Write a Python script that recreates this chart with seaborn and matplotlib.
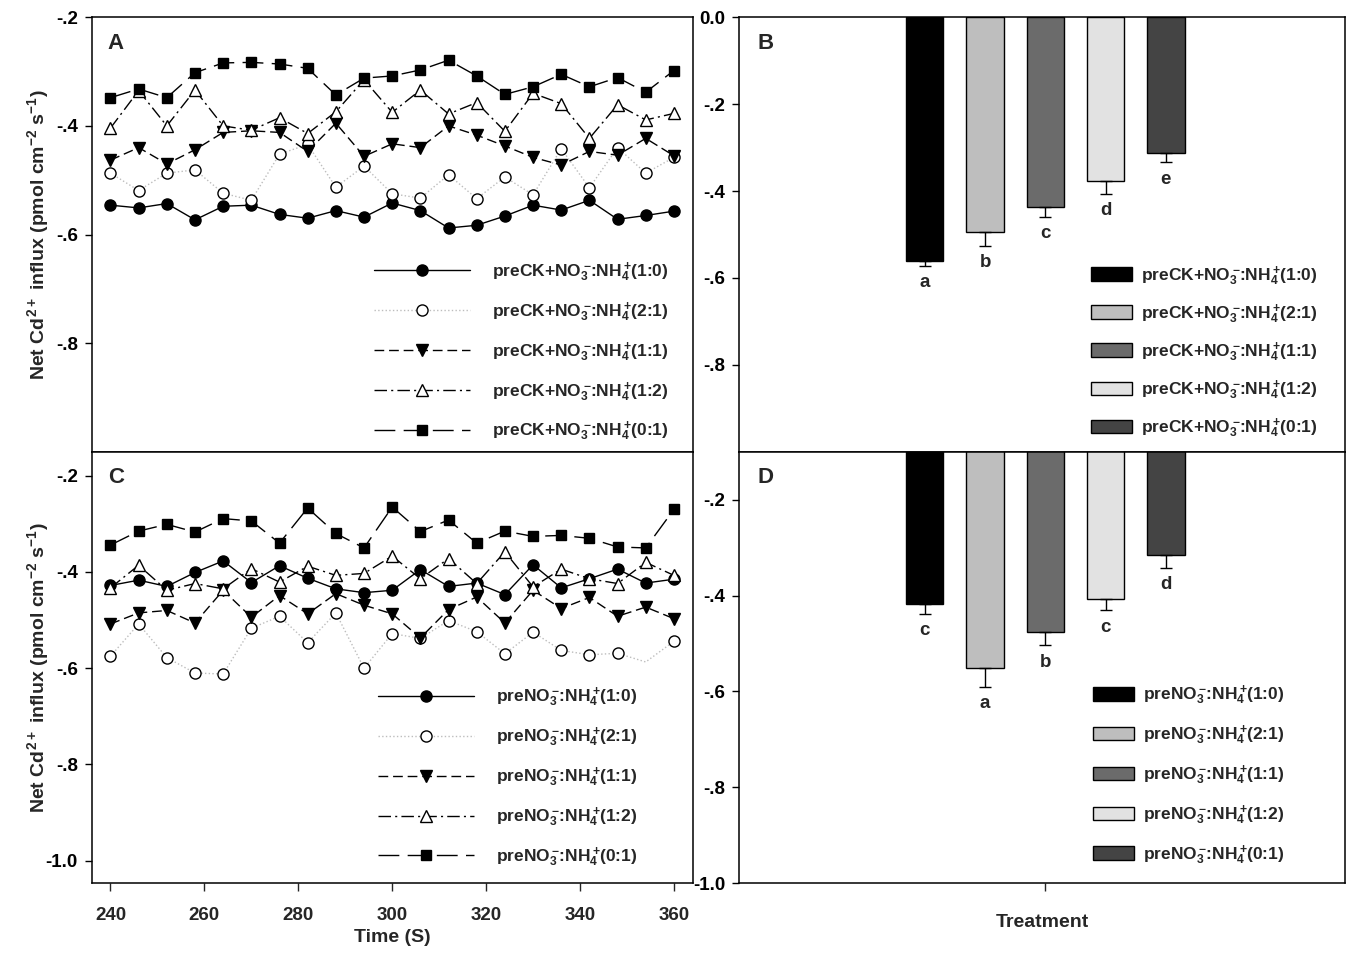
import numpy as np
import pandas as pd
import matplotlib
matplotlib.use('Agg')
import matplotlib.pyplot as plt
import seaborn as sns
from matplotlib import font_manager

# ---------------- data ----------------
time = list(range(240, 361, 6))

ratios = ['1:0', '2:1', '1:1', '1:2', '0:1']

# Panel A (preCK + NO3-:NH4+)
A_10 = [-0.546, -0.551, -0.543, -0.573, -0.548, -0.546, -0.563, -0.570, -0.556, -0.568, -0.542,
        -0.556, -0.588, -0.583, -0.566, -0.546, -0.555, -0.537, -0.572, -0.565, -0.557]
A_21 = [-0.487, -0.519, -0.487, -0.481, -0.524, -0.537, -0.452, -0.434, -0.513, -0.474, -0.525,
        -0.533, -0.490, -0.534, -0.494, -0.527, -0.442, -0.514, -0.440, -0.487, -0.458]
A_11 = [-0.463, -0.440, -0.470, -0.444, -0.412, -0.409, -0.412, -0.447, -0.395, -0.456, -0.433,
        -0.440, -0.400, -0.417, -0.437, -0.458, -0.472, -0.447, -0.454, -0.423, -0.455]
A_12 = [-0.404, -0.335, -0.400, -0.334, -0.400, -0.408, -0.385, -0.414, -0.374, -0.315, -0.375,
        -0.334, -0.378, -0.357, -0.410, -0.340, -0.359, -0.423, -0.361, -0.389, -0.377]
A_01 = [-0.348, -0.332, -0.348, -0.302, -0.284, -0.283, -0.286, -0.294, -0.343, -0.312, -0.308,
        -0.297, -0.279, -0.308, -0.342, -0.328, -0.305, -0.328, -0.311, -0.338, -0.298]

# Panel C (pre NO3-:NH4+)
C_10 = [-0.428, -0.417, -0.430, -0.401, -0.377, -0.422, -0.387, -0.413, -0.435, -0.443, -0.438,
        -0.395, -0.430, -0.423, -0.447, -0.385, -0.433, -0.414, -0.394, -0.423, -0.415]
C_21 = [-0.575, -0.508, -0.578, -0.610, -0.612, -0.517, -0.492, -0.547, -0.485, -0.600, -0.528,
        -0.538, -0.501, -0.524, -0.570, -0.525, -0.563, -0.572, -0.569, -0.587, -0.544]
C_11 = [-0.508, -0.485, -0.480, -0.506, -0.438, -0.494, -0.449, -0.487, -0.445, -0.469, -0.487,
        -0.537, -0.478, -0.452, -0.506, -0.438, -0.476, -0.453, -0.492, -0.473, -0.497]
C_12 = [-0.433, -0.386, -0.438, -0.424, -0.435, -0.393, -0.421, -0.388, -0.407, -0.403, -0.367,
        -0.414, -0.372, -0.424, -0.358, -0.431, -0.394, -0.414, -0.424, -0.380, -0.407]
C_01 = [-0.344, -0.315, -0.301, -0.317, -0.289, -0.294, -0.340, -0.267, -0.320, -0.350, -0.265,
        -0.316, -0.292, -0.340, -0.315, -0.326, -0.324, -0.330, -0.348, -0.350, -0.270]

# Panels B and D (mean flux, SE, letters)
B_mean = [-0.560, -0.494, -0.436, -0.376, -0.312]
B_err = [0.012, 0.033, 0.024, 0.031, 0.022]
B_letters = ['a', 'b', 'c', 'd', 'e']
D_mean = [-0.418, -0.551, -0.477, -0.408, -0.316]
D_err = [0.020, 0.040, 0.027, 0.023, 0.026]
D_letters = ['c', 'a', 'b', 'c', 'd']

labels_ck = [r'preCK+NO$_3^-\!$:NH$_4^+\!$(%s)' % r for r in ratios]
labels_pre = [r'preNO$_3^-\!$:NH$_4^+\!$(%s)' % r for r in ratios]

ytick_A = [-0.8, -0.6, -0.4, -0.2]
ytick_A_lab = ['-.8', '-.6', '-.4', '-.2']
ytick_C = [-1.0, -0.8, -0.6, -0.4, -0.2]
ytick_C_lab = ['-1.0', '-.8', '-.6', '-.4', '-.2']
ytick_B = [-0.8, -0.6, -0.4, -0.2, 0.0]
ytick_B_lab = ['-.8', '-.6', '-.4', '-.2', '0.0']
ytick_D = [-1.0, -0.8, -0.6, -0.4, -0.2]
ytick_D_lab = ['-1.0', '-.8', '-.6', '-.4', '-.2']
xtick_C = [240, 260, 280, 300, 320, 340, 360]

bar_colors = ['#000000', '#bebebe', '#6b6b6b', '#e2e2e2', '#444444']

# ---------------- style ----------------
sns.set_theme(style='white')
names = {f.name for f in font_manager.fontManager.ttflist}
main_font = 'Liberation Sans' if 'Liberation Sans' in names else 'DejaVu Sans'
narrow_font = 'Liberation Sans Narrow' if 'Liberation Sans Narrow' in names else main_font
plt.rcParams['font.family'] = [main_font, 'DejaVu Sans']
plt.rcParams['font.weight'] = 'bold'
plt.rcParams['mathtext.default'] = 'regular'
plt.rcParams['axes.linewidth'] = 1.1

fig = plt.figure(figsize=(13.7, 9.61), dpi=100)
W, H = 1370.0, 961.0
L1, W1 = 91.7 / W, 601.0 / W
L2, W2 = 739.0 / W, 606.0 / W
yb_top, h_top = 1 - 451.7 / H, (451.7 - 17.3) / H
yb_bot, h_bot = 1 - 883.3 / H, (883.3 - 451.7) / H

axA = fig.add_axes([L1, yb_top, W1, h_top])
axB = fig.add_axes([L2, yb_top, W2, h_top])
axC = fig.add_axes([L1, yb_bot, W1, h_bot])
axD = fig.add_axes([L2, yb_bot, W2, h_bot])

line_styles = [
    dict(color='black', linestyle='-', marker='o', markerfacecolor='black', markersize=8),
    dict(color='#bdbdbd', linestyle=':', marker='o', markerfacecolor='white', markersize=8),
    dict(color='black', linestyle=(0, (7, 3.5)), marker='v', markerfacecolor='black', markersize=8.5),
    dict(color='black', linestyle=(0, (9, 3, 1.5, 3)), marker='^', markerfacecolor='white', markersize=8.5),
    dict(color='black', linestyle=(0, (15, 6)), marker='s', markerfacecolor='black', markersize=7.5),
]

leg_prop = dict(family=narrow_font, weight='bold', size=12.5)


def line_panel(ax, series, labels, ylim, yt, ytl, letter, leg_anchor, spacing, hidden=None):
    hidden = hidden or {}
    for k, (vals, lab, st) in enumerate(zip(series, labels, line_styles)):
        me = None
        if k in hidden:
            me = [i for i in range(len(vals)) if i not in hidden[k]]
        sns.lineplot(x=time, y=vals, ax=ax, label=lab, linewidth=1.0, markevery=me,
                     markeredgecolor='black', markeredgewidth=1.0, **st)
    ax.set_xlim(236, 364)
    ax.set_ylim(*ylim)
    ax.set_yticks(yt)
    ax.set_yticklabels(ytl)
    leg = ax.legend(loc='lower left', bbox_to_anchor=leg_anchor, frameon=False, prop=leg_prop,
                    handlelength=5.5, handletextpad=1.3, labelspacing=spacing, numpoints=1,
                    borderaxespad=0, borderpad=0)
    for h in leg.legend_handles:
        h.set_markevery([1])
    ax.text(0.027, 0.965, letter, transform=ax.transAxes, ha='left', va='top',
            fontsize=16, fontweight='bold')


def bar_panel(ax, means, errs, letters, labels, ylim, yt, ytl, letter, leg_anchor, spacing):
    df = pd.DataFrame({'trt': labels, 'flux': means})
    sns.barplot(data=df, x='trt', y='flux', hue='trt', palette=bar_colors, ax=ax,
                width=0.62, edgecolor='black', linewidth=1.0, legend=False, errorbar=None)
    xs = np.arange(len(means))
    ax.errorbar(xs, means, yerr=[errs, [0] * len(errs)], fmt='none', ecolor='black',
                elinewidth=1.0, capsize=4.5, capthick=1.0, zorder=3)
    for xi, m, e, t in zip(xs, means, errs, letters):
        ax.annotate(t, xy=(xi, m - e), xytext=(0, -12), textcoords='offset points',
                    ha='center', va='center', fontsize=13.5, fontweight='bold')
    ax.set_xlim(-3.08, 6.97)
    ax.set_ylim(*ylim)
    ax.set_yticks(yt)
    ax.set_yticklabels(ytl)
    ax.legend(handles=list(ax.patches)[:len(labels)], labels=labels, loc='lower left',
              bbox_to_anchor=leg_anchor, frameon=False, prop=leg_prop, handlelength=2.35,
              handleheight=0.85, handletextpad=0.55, labelspacing=spacing,
              borderaxespad=0, borderpad=0)
    ax.text(0.03, 0.965, letter, transform=ax.transAxes, ha='left', va='top',
            fontsize=16, fontweight='bold')


line_panel(axA, [A_10, A_21, A_11, A_12, A_01], labels_ck, (-1.0, -0.2), ytick_A, ytick_A_lab,
           'A', (0.47, 0.019), 0.93)
line_panel(axC, [C_10, C_21, C_11, C_12, C_01], labels_pre, (-1.047, -0.15), ytick_C, ytick_C_lab,
           'C', (0.477, 0.033), 0.93, hidden={1: [19]})
bar_panel(axB, B_mean, B_err, B_letters, labels_ck, (-1.0, 0.0), ytick_B, ytick_B_lab,
          'B', (0.581, 0.027), 0.82)
bar_panel(axD, D_mean, D_err, D_letters, labels_pre, (-1.0, -0.1), ytick_D, ytick_D_lab,
          'D', (0.584, 0.038), 0.93)

ylab = 'Net Cd$^{2+}$ influx (pmol cm$^{-2}$ s$^{-1}$)'
for ax in (axA, axB, axC, axD):
    ax.tick_params(axis='y', direction='out', length=5, width=1.0, left=True,
                   labelsize=13.5, pad=5, colors='black')
    ax.tick_params(axis='x', direction='out', length=6, width=1.0, labelsize=13.5, pad=11)
    for sp in ax.spines.values():
        sp.set_visible(True)
        sp.set_color('black')
    ax.set_xlabel('')
    ax.set_ylabel('')
    for t in ax.get_yticklabels() + ax.get_xticklabels():
        t.set_fontweight('bold')

for ax in (axA, axC):
    ax.set_ylabel(ylab, fontsize=14, fontweight='bold')
    ax.yaxis.set_label_coords(-0.068, 0.5)

axA.tick_params(axis='x', bottom=False, labelbottom=False)
axB.tick_params(axis='x', bottom=False, labelbottom=False)
axC.set_xticks(xtick_C)
axC.set_xticklabels([str(v) for v in xtick_C])
axC.tick_params(axis='x', bottom=True)
axC.set_xlabel('Time (S)', fontsize=14, fontweight='bold', labelpad=4)
axD.set_xticks([2])
axD.set_xticklabels([''])
axD.tick_params(axis='x', bottom=True, pad=4)
axD.set_xlabel('Treatment', fontsize=14, fontweight='bold', labelpad=12)

fig.savefig('out.png', dpi=100, facecolor='white')
